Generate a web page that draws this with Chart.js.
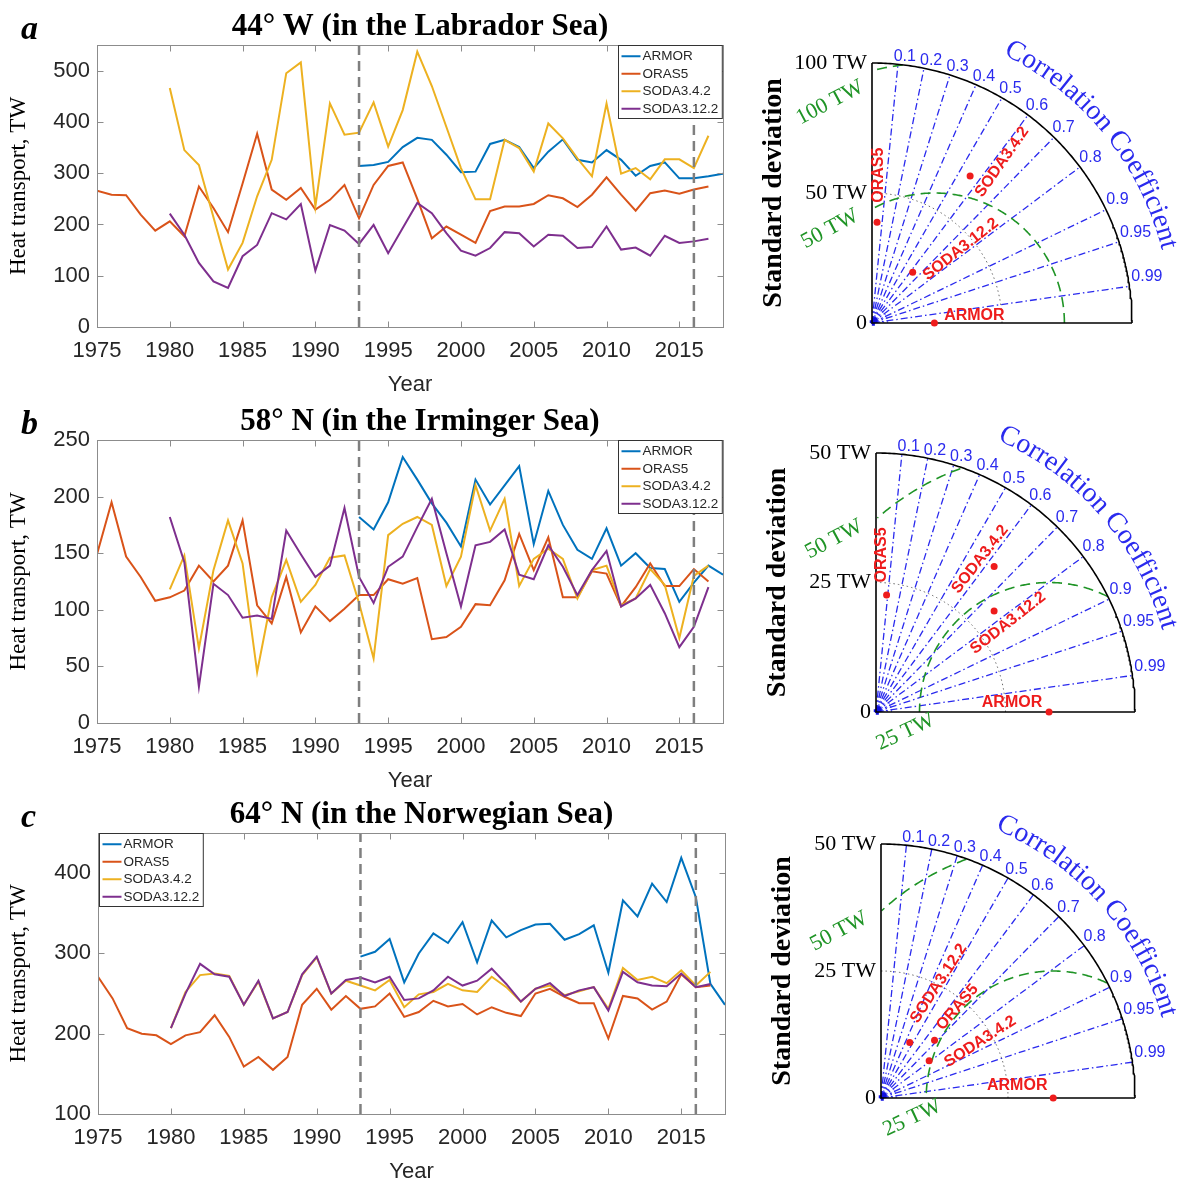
<!DOCTYPE html>
<html>
<head>
<meta charset="utf-8">
<title>Heat transport</title>
<script src="https://cdn.jsdelivr.net/npm/chart.js@4.4.1/dist/chart.umd.min.js"></script>
<style>
  body { margin: 0; background: #fff; }
  #fig { position: relative; width: 1198px; height: 1187px; overflow: hidden; }
  #fig canvas { position: absolute; }
</style>
</head>
<body>
<div id="fig">
  <canvas id="lineA" width="740" height="400" style="left:0;top:0"></canvas>
  <canvas id="lineB" width="740" height="400" style="left:0;top:400px"></canvas>
  <canvas id="lineC" width="740" height="397" style="left:0;top:790px"></canvas>
  <canvas id="taylorA" width="453" height="360" style="left:745px;top:20px"></canvas>
  <canvas id="taylorB" width="453" height="390" style="left:745px;top:400px"></canvas>
  <canvas id="taylorC" width="453" height="387" style="left:745px;top:800px"></canvas>
</div>
<script>
const _ = null;
const years = [1975, 1976, 1977, 1978, 1979, 1980, 1981, 1982, 1983, 1984, 1985, 1986, 1987, 1988, 1989,
  1990, 1991, 1992, 1993, 1994, 1995, 1996, 1997, 1998, 1999, 2000, 2001, 2002, 2003, 2004, 2005, 2006,
  2007, 2008, 2009, 2010, 2011, 2012, 2013, 2014, 2015, 2016, 2017, 2018];
const xTicks = [1975, 1980, 1985, 1990, 1995, 2000, 2005, 2010, 2015];
const markerYears = [1993, 2016];

const seriesNames = ['ARMOR', 'ORAS5', 'SODA3.4.2', 'SODA3.12.2'];
const seriesColors = ['#0072BD', '#D95319', '#EDB120', '#7E2F8E'];

// a: 44° W, Labrador Sea (TW)
const armorA = [_, _, _, _, _, _, _, _, _, _, _, _, _, _, _, _, _, _,
  314, 316, 322, 351, 369, 365, 336, 302, 303, 357, 365, 351, 310, 342, 366, 326, 321, 345, 326, 295, 314, 321, 290, 290, 294, 299];
const oras5A = [266, 258, 257, 219, 188, 206, 177, 274, 232, 185, 280, 377, 268, 248, 271, 229, 248, 277, 212, 277,
  314, 321, 250, 173, 196, 180, 164, 226, 235, 235, 240, 257, 251, 234, 258, 292, 258, 227, 261, 266, 260, 268, 274, _];
const soda34A = [_, _, _, _, _, 466, 345, 316, 214, 112, 164, 255, 326, 495, 516, 235, 436, 375, 379, 438,
  352, 423, 537, 470, 390, 310, 249, 249, 365, 349, 303, 397, 368, 329, 294, 436, 299, 310, 288, 327, 327, 310, 373, _];
const soda312A = [_, _, _, _, _, 221, 180, 125, 89, 76, 138, 160, 222, 210, 240, 110, 199, 188, 162, 199,
  144, 193, 242, 222, 183, 149, 139, 154, 185, 183, 157, 180, 178, 154, 156, 196, 151, 155, 139, 178, 164, 167, 172, _];
const yTicksA = [0, 100, 200, 300, 400, 500];

// b: 58° N, Irminger Sea (TW)
const armorB = [_, _, _, _, _, _, _, _, _, _, _, _, _, _, _, _, _, _,
  182, 171, 195, 235, 215, 194, 177, 156, 215, 193, 210, 227, 158, 205, 175, 153, 145, 172, 139, 150, 137, 136, 107, 124, 139, 131];
const oras5B = [149, 195, 147, 129, 108, 111, 117, 139, 125, 139, 179, 104, 88, 129, 80, 103, 90, 101, 113, 113,
  127, 123, 128, 74, 76, 85, 105, 104, 126, 167, 135, 164, 111, 111, 134, 132, 103, 120, 141, 121, 121, 136, 125, _];
const soda34B = [_, _, _, _, _, 118, 148, 66, 135, 179, 141, 45, 111, 144, 107, 122, 146, 148, 106, 57,
  166, 176, 182, 175, 121, 147, 210, 170, 198, 121, 145, 154, 145, 110, 135, 139, 104, 110, 136, 122, 75, 130, 139, _];
const soda312B = [_, _, _, _, _, 182, 142, 32, 123, 113, 93, 95, 92, 170, 149, 129, 139, 190, 129, 106,
  138, 147, 173, 198, 150, 103, 157, 160, 171, 131, 127, 157, 138, 113, 135, 152, 103, 110, 122, 97, 67, 85, 120, _];
const yTicksB = [0, 50, 100, 150, 200, 250];

// c: 64° N, Norwegian Sea (TW)
const armorC = [_, _, _, _, _, _, _, _, _, _, _, _, _, _, _, _, _, _,
  296, 302, 318, 264, 300, 325, 313, 339, 289, 341, 320, 329, 336, 337, 317, 324, 335, 276, 366, 346, 387, 364, 419, 370, 262, 236];
const oras5C = [271, 244, 207, 200, 198, 187, 198, 202, 223, 196, 159, 171, 155, 171, 236, 256, 230, 247, 231, 234,
  250, 221, 227, 241, 234, 237, 224, 233, 226, 222, 250, 256, 246, 238, 238, 194, 247, 244, 230, 240, 274, 258, 260, _];
const soda34C = [_, _, _, _, _, 207, 252, 273, 275, 272, 236, 265, 219, 227, 273, 295, 250, 266, 260, 254,
  267, 233, 249, 252, 262, 254, 252, 271, 258, 240, 256, 260, 248, 253, 258, 231, 282, 267, 271, 263, 279, 260, 277, _];
const soda312C = [_, _, _, _, _, 207, 250, 287, 274, 271, 236, 266, 219, 227, 274, 296, 250, 267, 270, 264,
  271, 242, 244, 254, 271, 260, 266, 281, 262, 240, 256, 263, 247, 254, 258, 229, 277, 264, 260, 259, 275, 258, 262, _];
const yTicksC = [100, 200, 300, 400];

// Taylor diagram statistics, order as seriesNames (std in TW, correlation with ARMOR)
const corrTicks = [0.1, 0.2, 0.3, 0.4, 0.5, 0.6, 0.7, 0.8, 0.9, 0.95, 0.99];
const stdA = [24, 38.8, 68, 25];
const corrA = [1, 0.05, 0.555, 0.626];
const stdTicksA = [0, 50, 100];
const rmsA = [50, 100];
const stdB = [33.4, 22.7, 36.2, 30];
const corrB = [1, 0.09, 0.63, 0.76];
const stdTicksB = [0, 25, 50];
const rmsB = [25, 50];
const stdC = [33.9, 15.5, 12.0, 12.3];
const corrC = [1, 0.68, 0.79, 0.46];
const stdTicksC = [0, 25, 50];
const rmsC = [25, 50];

const SANS = '"Liberation Sans", Arial, sans-serif';
const SERIF = '"Liberation Serif", "Times New Roman", serif';
const TXT = '#262626';
const BLUE = '#2a2aee';
const GREEN = '#1f9426';

function toPoints(values) {
  return years.map((yr, i) => ({ x: yr, y: values[i] })).filter(p => p.y !== null);
}

// box around the axes with inward ticks on all four sides
const frame = {
  id: 'frame',
  afterDatasetsDraw(chart) {
    const { ctx, chartArea: a, scales: { x, y } } = chart;
    ctx.save();
    ctx.strokeStyle = '#8c8c8c';
    ctx.lineWidth = 1;
    const l = Math.round(a.left) + 0.5, r = Math.round(a.right) + 0.5;
    const t = Math.round(a.top) + 0.5, b = Math.round(a.bottom) + 0.5;
    ctx.strokeRect(l, t, r - l, b - t);
    ctx.beginPath();
    x.ticks.forEach(tk => {
      const px = Math.round(x.getPixelForValue(tk.value)) + 0.5;
      ctx.moveTo(px, b); ctx.lineTo(px, b - 6);
      ctx.moveTo(px, t); ctx.lineTo(px, t + 6);
    });
    y.ticks.forEach(tk => {
      const py = Math.round(y.getPixelForValue(tk.value)) + 0.5;
      ctx.moveTo(l, py); ctx.lineTo(l + 6, py);
      ctx.moveTo(r, py); ctx.lineTo(r - 6, py);
    });
    ctx.stroke();
    ctx.restore();
  }
};

// matlab-style legend box inside the axes
const legendBox = {
  id: 'legendBox',
  afterDraw(chart, args, opts) {
    const { ctx, chartArea: a } = chart;
    const items = chart.data.datasets.filter(d => !d.marker);
    ctx.save();
    ctx.font = '13.5px ' + SANS;
    const rowH = 17.5, lineW = 19;
    const textW = Math.max(...items.map(d => ctx.measureText(d.label).width));
    const w = 3 + lineW + 2 + textW + 4, h = items.length * rowH + 3;
    const x0 = opts.corner === 'left' ? Math.round(a.left) + 1.5 : Math.round(a.right - w) - 0.5;
    const y0 = Math.round(a.top) + 0.5;
    ctx.fillStyle = '#fff';
    ctx.fillRect(x0, y0, w, h);
    ctx.strokeStyle = '#333';
    ctx.lineWidth = 1;
    ctx.strokeRect(x0, y0, w, h);
    ctx.textBaseline = 'middle';
    items.forEach((d, i) => {
      const cy = y0 + 2 + rowH * (i + 0.5);
      ctx.strokeStyle = d.borderColor;
      ctx.lineWidth = 2;
      ctx.beginPath();
      ctx.moveTo(x0 + 3, cy); ctx.lineTo(x0 + 3 + lineW, cy);
      ctx.stroke();
      ctx.fillStyle = TXT;
      ctx.fillText(d.label, x0 + 5 + lineW, cy + 0.5);
    });
    ctx.restore();
  }
};

const heading = {
  id: 'heading',
  afterDraw(chart, args, opts) {
    const { ctx, chartArea: a } = chart;
    ctx.save();
    ctx.fillStyle = '#000';
    ctx.textBaseline = 'middle';
    ctx.textAlign = 'center';
    ctx.font = 'bold 31px ' + SERIF;
    ctx.fillText(opts.text, (a.left + a.right) / 2 + 10, a.top - 18);
    ctx.textAlign = 'left';
    ctx.font = 'italic bold 34px ' + SERIF;
    ctx.fillText(opts.letter, 21, a.top - 15);
    ctx.restore();
  }
};

function drawLinePanel(id, p) {
  const datasets = seriesNames.map((name, i) => ({
    label: name,
    data: toPoints(p.series[i]),
    borderColor: seriesColors[i],
    borderWidth: 2,
    pointRadius: 0,
    tension: 0,
    order: 4 - i
  }));
  markerYears.forEach(yr => datasets.push({
    label: '',
    marker: true,
    data: [{ x: yr, y: p.yMin }, { x: yr, y: p.yMax }],
    borderColor: '#7f7f7f',
    borderWidth: 2.5,
    borderDash: [10, 6],
    pointRadius: 0,
    order: 0
  }));
  const tickFont = { family: SANS, size: 22 };
  return new Chart(document.getElementById(id), {
    type: 'line',
    data: { datasets },
    options: {
      responsive: false,
      animation: false,
      devicePixelRatio: 1,
      events: [],
      layout: { padding: p.padding },
      plugins: {
        legend: { display: false },
        tooltip: { enabled: false },
        legendBox: { corner: p.legendCorner },
        heading: { text: p.title, letter: p.letter }
      },
      scales: {
        x: {
          type: 'linear', min: 1975, max: 2018,
          grid: { display: false, drawTicks: false },
          border: { display: false },
          afterBuildTicks: s => { s.ticks = xTicks.map(v => ({ value: v })); },
          afterFit: s => { s.height = 72; },
          ticks: { font: tickFont, color: TXT, padding: 11, maxRotation: 0, autoSkip: false, callback: v => String(v) },
          title: { display: true, text: 'Year', font: tickFont, color: TXT, padding: { top: 0, bottom: 1 } }
        },
        y: {
          type: 'linear', min: p.yMin, max: p.yMax,
          grid: { display: false, drawTicks: false },
          border: { display: false },
          afterBuildTicks: s => { s.ticks = p.yTicks.map(v => ({ value: v })); },
          afterFit: s => { s.width = p.yWidth; },
          ticks: { font: tickFont, color: TXT, padding: 7, callback: v => String(v) },
          title: { display: true, text: 'Heat transport, TW', font: { family: SERIF, size: 23 }, color: '#000', padding: { top: 5, bottom: 0 } }
        }
      }
    },
    plugins: [frame, legendBox, heading]
  });
}

drawLinePanel('lineA', {
  series: [armorA, oras5A, soda34A, soda312A], yMin: 0, yMax: 550, yTicks: yTicksA,
  title: '44° W (in the Labrador Sea)', letter: 'a', legendCorner: 'right',
  yWidth: 97, padding: { top: 45, bottom: 1, left: 0, right: 17 }
});
drawLinePanel('lineB', {
  series: [armorB, oras5B, soda34B, soda312B], yMin: 0, yMax: 250, yTicks: yTicksB,
  title: '58° N (in the Irminger Sea)', letter: 'b', legendCorner: 'right',
  yWidth: 97, padding: { top: 40, bottom: 5, left: 0, right: 17 }
});
drawLinePanel('lineC', {
  series: [armorC, oras5C, soda34C, soda312C], yMin: 100, yMax: 450, yTicks: yTicksC,
  title: '64° N (in the Norwegian Sea)', letter: 'c', legendCorner: 'left',
  yWidth: 98, padding: { top: 43, bottom: 1, left: 0, right: 15 }
});

// ---- Taylor diagrams ----
function polar(s, c) {
  return { x: s * c, y: s * Math.sqrt(Math.max(0, 1 - c * c)) };
}
function quarterArc(r) {
  const pts = [];
  for (let k = 0; k <= 180; k++) {
    const a = k * Math.PI / 360;
    pts.push({ x: r * Math.cos(a), y: r * Math.sin(a) });
  }
  return pts;
}
// centred RMS difference circle around the reference, kept inside the quarter disc
function rmsArc(ref, r, max) {
  const pts = [];
  for (let k = 0; k <= 360; k++) {
    const a = k * Math.PI / 360;
    const x = ref + r * Math.cos(a), y = r * Math.sin(a);
    pts.push(x >= 0 && Math.hypot(x, y) <= max ? { x, y } : { x, y: null });
  }
  return pts;
}
function rotText(ctx, txt, px, py, deg) {
  ctx.save();
  ctx.translate(px, py);
  ctx.rotate(-deg * Math.PI / 180);
  ctx.fillText(txt, 0, 0);
  ctx.restore();
}

function drawTaylor(id, t) {
  const m = t.max;
  const ds = [];
  const line = (data, color, width, dash) => ds.push({
    data, showLine: true, borderColor: color, borderWidth: width, borderDash: dash || [],
    pointRadius: 0, clip: false, spanGaps: false
  });
  corrTicks.forEach(c => line([{ x: 0, y: 0 }, polar(m, c)], BLUE, 1.3, [7, 3, 1.5, 3]));
  [0.03, 0.045, 0.06].forEach(f => line(quarterArc(m * f), BLUE, 1, [2, 2]));
  line(quarterArc(m * 0.011), '#1010e0', 5.5);
  line(quarterArc(m / 2), '#666', 1, [1.5, 3]);
  t.rms.forEach(r => line(rmsArc(t.std[0], r, m), GREEN, 1.6, [10, 6]));
  line(quarterArc(m), '#000', 1.6);
  line([{ x: 0, y: m }, { x: 0, y: 0 }, { x: m, y: 0 }], '#000', 1.6);
  ds.push({
    data: t.std.map((s, i) => polar(s, t.corr[i])),
    showLine: false, pointRadius: 3.5, pointBackgroundColor: '#ee1c1c', pointBorderWidth: 0, clip: false
  });
  ds.forEach((d, i) => { d.order = ds.length - i; });

  const texts = {
    id: 'taylorText',
    afterDraw(chart) {
      const { ctx, scales: { x, y } } = chart;
      const ox = x.getPixelForValue(0), oy = y.getPixelForValue(0);
      const R = x.getPixelForValue(m) - ox;
      ctx.save();

      // std axis labels
      ctx.fillStyle = '#000';
      ctx.font = '22px ' + SERIF;
      ctx.textAlign = 'right';
      ctx.textBaseline = 'middle';
      t.stdTicks.forEach(v => ctx.fillText(v === 0 ? '0' : v + ' TW', ox - 5, y.getPixelForValue(v)));
      ctx.font = 'bold 28px ' + SERIF;
      ctx.textAlign = 'center';
      rotText(ctx, 'Standard deviation', ox - 98, oy - R / 2, 90);

      // correlation labels
      ctx.fillStyle = BLUE;
      ctx.font = '16px ' + SANS;
      ctx.textAlign = 'left';
      ctx.textBaseline = 'alphabetic';
      corrTicks.forEach(c => {
        const a = Math.acos(c) + Math.PI / 180;
        ctx.fillText(String(c), ox + 1.01 * R * Math.cos(a), oy - 1.01 * R * Math.sin(a));
      });

      // curved axis title
      ctx.font = '28px ' + SERIF;
      ctx.textAlign = 'center';
      const rb = 1.15 * R;
      let ang = t.curveStart * Math.PI / 180;
      for (const ch of 'Correlation Coefficient') {
        const w = ctx.measureText(ch).width;
        const ac = ang - (w / 2) / rb;
        ctx.save();
        ctx.translate(ox + rb * Math.cos(ac), oy - rb * Math.sin(ac));
        ctx.rotate(Math.PI / 2 - ac);
        ctx.fillText(ch, 0, 0);
        ctx.restore();
        ang -= w / rb;
      }

      // RMS circle labels
      ctx.fillStyle = GREEN;
      ctx.font = '22px ' + SERIF;
      ctx.textBaseline = 'middle';
      const ref = t.std[0];
      t.rms.forEach(r => {
        if (r > ref) {
          const h = Math.sqrt(r * r - ref * ref);
          const drop = h > 0.9 * m ? 32 : 20;
          rotText(ctx, r + ' TW', ox - 42, y.getPixelForValue(h) + drop, 28);
        } else {
          rotText(ctx, r + ' TW', x.getPixelForValue(ref - r) - 14, oy + 20, 25);
        }
      });

      // model labels
      ctx.fillStyle = '#ee1c1c';
      ctx.font = 'bold 16px ' + SANS;
      seriesNames.forEach((name, i) => {
        const p = polar(t.std[i], t.corr[i]);
        const o = t.labels[i];
        rotText(ctx, name, x.getPixelForValue(p.x) + o[0], y.getPixelForValue(p.y) + o[1], o[2]);
      });
      ctx.restore();
    }
  };

  return new Chart(document.getElementById(id), {
    type: 'scatter',
    data: { datasets: ds },
    options: {
      responsive: false,
      animation: false,
      devicePixelRatio: 1,
      events: [],
      layout: { padding: t.padding },
      plugins: { legend: { display: false }, tooltip: { enabled: false } },
      scales: {
        x: { type: 'linear', min: 0, max: m, display: false },
        y: { type: 'linear', min: 0, max: m, display: false }
      }
    },
    plugins: [texts]
  });
}

drawTaylor('taylorA', {
  max: 100, std: stdA, corr: corrA, stdTicks: stdTicksA, rms: rmsA, curveStart: 64,
  padding: { left: 127, top: 43, right: 66, bottom: 57 },
  labels: [[40, -7, 0], [2, -47, 90], [32, -14, 55], [48, -23, 38]]
});
drawTaylor('taylorB', {
  max: 50, std: stdB, corr: corrB, stdTicks: stdTicksB, rms: rmsB, curveStart: 66,
  padding: { left: 131, top: 53, right: 63, bottom: 78 },
  labels: [[-37, -9, 0], [-5, -40, 90], [-14, -7, 52], [14, 12, 38]]
});
drawTaylor('taylorC', {
  max: 50, std: stdC, corr: corrC, stdTicks: stdTicksC, rms: rmsC, curveStart: 67,
  padding: { left: 136, top: 44, right: 63, bottom: 89 },
  labels: [[-36, -12, 0], [23, -33, 49], [51, -19, 33], [29, -59, 57]]
});
</script>
</body>
</html>
